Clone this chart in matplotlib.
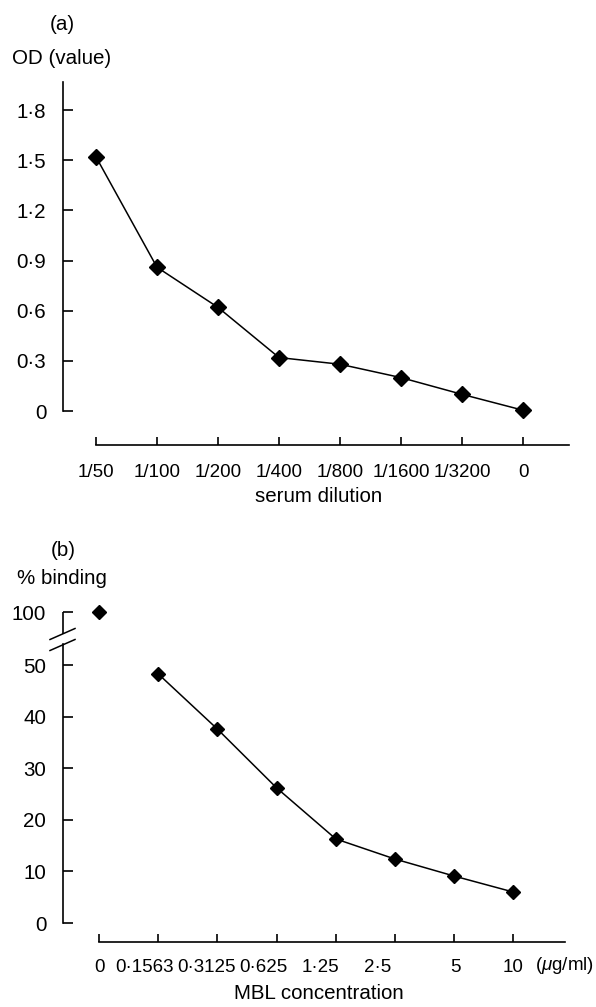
import matplotlib
matplotlib.use("Agg")
import matplotlib.pyplot as plt
import matplotlib.transforms as mtransforms
import numpy as np
from matplotlib.lines import Line2D

plt.rcParams['font.family'] = ['Liberation Sans', 'DejaVu Sans']
plt.rcParams['mathtext.fontset'] = 'custom'
plt.rcParams['mathtext.rm'] = 'Liberation Sans'
plt.rcParams['mathtext.it'] = 'Liberation Sans:italic'

# (a) OD vs serum dilution
dilutions = ["1/50", "1/100", "1/200", "1/400", "1/800", "1/1600", "1/3200", "0"]
od_values = [1.52, 0.86, 0.62, 0.32, 0.28, 0.20, 0.10, 0.005]
od_ticks = [0, 0.3, 0.6, 0.9, 1.2, 1.5, 1.8]
od_tick_labels = ["0", "0·3", "0·6", "0·9", "1·2", "1·5", "1·8"]

# (b) % binding vs MBL concentration
mbl_conc = ["0", "0·1563", "0·3125", "0·625", "1·25", "2·5", "5", "10"]
binding = [100, 48.3, 37.6, 26.2, 16.3, 12.4, 9.1, 6.0]
binding_ticks = [0, 10, 20, 30, 40, 50, 100]

W, H = 596, 1007
FS = 14.8      # titles, y tick labels
FS_X = 13.5    # x tick labels (narrower in the original)
LW_AX = 1.2


def box(left, top, right, bottom):
    return [left / W, 1 - bottom / H, (right - left) / W, (bottom - top) / H]


def fwd(v):
    v = np.asarray(v, dtype=float)
    return np.where(v <= 50, v, 50 + (v - 50) * 0.206)


def inv(v):
    v = np.asarray(v, dtype=float)
    return np.where(v <= 50, v, 50 + (v - 50) / 0.206)


def style_axes(ax):
    for s in ['top', 'right']:
        ax.spines[s].set_visible(False)
    for s in ['left', 'bottom']:
        ax.spines[s].set_linewidth(LW_AX)
    ax.tick_params(axis='y', direction='in', length=7.2, width=LW_AX,
                   labelsize=FS, pad=12)
    ax.tick_params(axis='x', direction='in', length=5.8, width=LW_AX,
                   labelsize=FS_X, pad=14)


fig = plt.figure(figsize=(W / 100, H / 100), dpi=100)

# ---- panel (a) ----
ax1 = fig.add_axes(box(63, 82, 575, 445))
style_axes(ax1)
xa = np.arange(len(dilutions))
ax1.plot(xa, od_values, color='black', lw=1.1, marker='D', ms=8,
         markerfacecolor='black', markeredgecolor='black')
ax1.set_xlim(-0.541, 7.852)
ax1.set_ylim(-0.203, 1.968)
ax1.set_xticks(xa)
ax1.set_xticklabels(dilutions)
ax1.set_yticks(od_ticks)
ax1.set_yticklabels(od_tick_labels)
ax1.spines['left'].set_bounds(0, 1.968)
ax1.spines['bottom'].set_bounds(0, 7.75)
ax1.set_xlabel("serum dilution", fontsize=FS, labelpad=4)
fig.text(62 / W, 1 - 25 / H, "(a)", ha='center', va='center', fontsize=FS)
fig.text(62 / W, 1 - 58 / H, "OD (value)", ha='center', va='center', fontsize=FS)

# ---- panel (b) ----
ax2 = fig.add_axes(box(63, 612, 575, 942))
style_axes(ax2)
ax2.tick_params(axis='x', pad=12)
ax2.set_yscale('function', functions=(fwd, inv))
xb = np.arange(len(mbl_conc))
ax2.plot(xb[1:], binding[1:], color='black', lw=1.1, marker='D', ms=7.5,
         markerfacecolor='black', markeredgecolor='black')
ax2.plot(xb[:1], binding[:1], linestyle='none', marker='D', ms=7,
         color='black', clip_on=False)
ax2.set_xlim(-0.608, 8.04)
ax2.set_ylim(-3.68, 100)
ax2.set_xticks(xb)
ax2.set_xticklabels(mbl_conc)
# labels in the original sit a little left of their ticks
label_shift = [1, -14, -11, -13, -15, -17, 1, 0]
for lab, dx in zip(ax2.get_xticklabels(), label_shift):
    lab.set_transform(lab.get_transform() +
                      mtransforms.ScaledTranslation(dx / 100, 0, fig.dpi_scale_trans))
ax2.set_yticks(binding_ticks)
ax2.set_yticklabels([str(t) for t in binding_ticks])
ax2.spines['left'].set_bounds(0, 69.9)
ax2.spines['bottom'].set_bounds(0, 7.87)
# upper piece of the broken y axis
ax2.plot([0, 0], [79.1, 100], color='black', lw=LW_AX, clip_on=False,
         transform=ax2.get_yaxis_transform(), solid_capstyle='butt')
# break marks
for yc in (634, 645):
    fig.add_artist(Line2D([50 / W, 75 / W],
                          [1 - (yc + 5.5) / H, 1 - (yc - 5.5) / H],
                          color='black', lw=1.1))
ax2.set_xlabel("MBL concentration", fontsize=FS, labelpad=6)
fig.text(535 / W, 1 - 966 / H, r"($\mathit{\mu}$g/ml)", ha='left',
         va='center', fontsize=FS_X)
fig.text(63 / W, 1 - 551 / H, "(b)", ha='center', va='center', fontsize=FS)
fig.text(62 / W, 1 - 579 / H, "% binding", ha='center', va='center', fontsize=FS)

fig.savefig("out.png", dpi=100)
